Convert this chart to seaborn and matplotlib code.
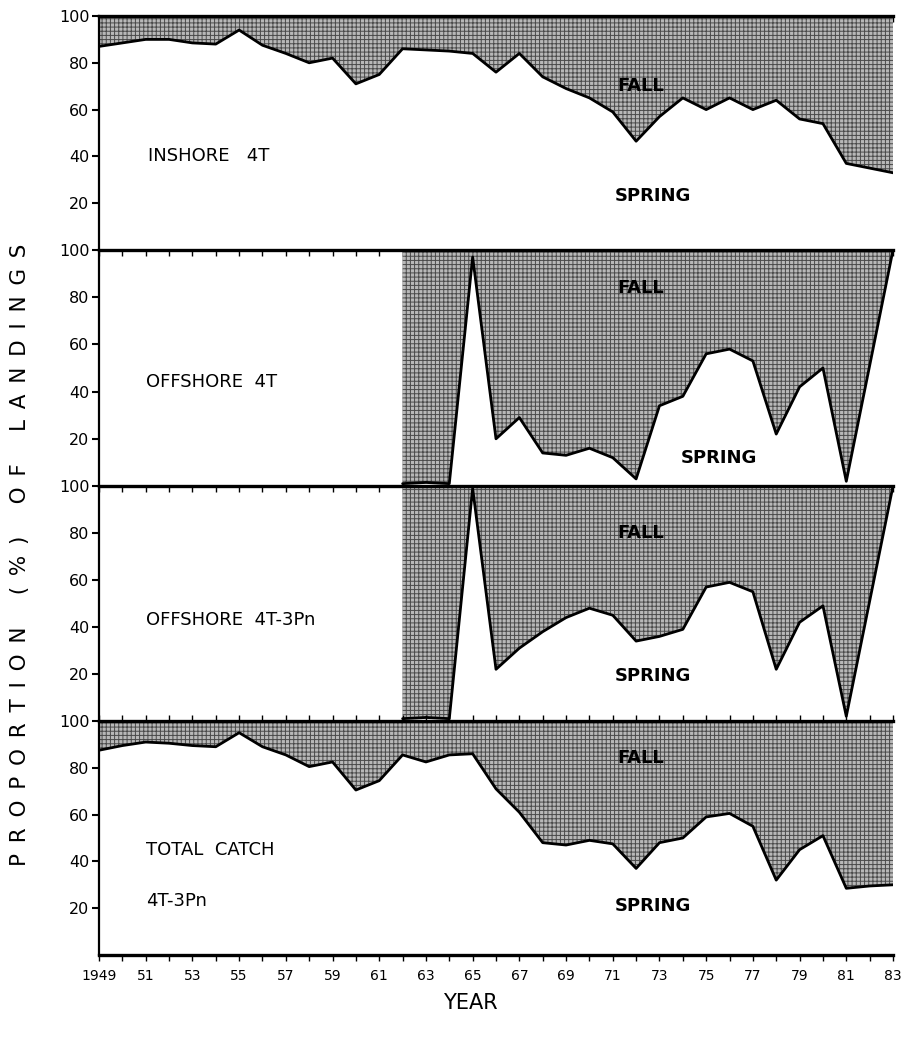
import numpy as np
import pandas as pd
import matplotlib
matplotlib.use("Agg")
import matplotlib.pyplot as plt
import seaborn as sns

years = list(range(1949, 1984))

inshore_4t = [87, 88.5, 90, 90, 88.5, 88, 94, 87.5, 84, 80, 82, 71, 75, 86, 85.5, 85,
              84, 76, 84, 74, 69, 65, 59, 46.5, 57, 65, 60, 65, 60, 64, 56, 54, 37, 35, 33]

offshore_years = list(range(1962, 1984))
offshore_4t = [1, 1.5, 1, 97, 20, 29, 14, 13, 16, 12, 3, 34, 38, 56, 58, 53, 22, 42, 50, 2, 51, 100]
offshore_4t3pn = [1, 1.5, 1, 99, 22, 31, 38, 44, 48, 45, 34, 36, 39, 57, 59, 55, 22, 42, 49, 2, 51, 100]

total_catch = [87.5, 89.5, 91, 90.5, 89.5, 89, 95, 89, 85.5, 80.5, 82.5, 70.5, 74.5, 85.5, 82.5,
               85.5, 86, 71, 61, 48, 47, 49, 47.5, 37, 48, 50, 59, 60.5, 55, 32, 45, 51, 28.5, 29.5, 30]

ytick_vals = [20, 40, 60, 80, 100]
xtick_major = list(range(1949, 1984, 2))
xtick_labels = ["1949"] + [str(y)[2:] for y in xtick_major[1:]]
ylabel_words = ["PROPORTION", "(%)", "OF", "LANDINGS"]

frames = [
    pd.DataFrame({"year": years, "spring": inshore_4t}),
    pd.DataFrame({"year": offshore_years, "spring": offshore_4t}),
    pd.DataFrame({"year": offshore_years, "spring": offshore_4t3pn}),
    pd.DataFrame({"year": years, "spring": total_catch}),
]

sns.set_theme(style="white")
plt.rcParams['font.family'] = ['DejaVu Sans']
plt.rcParams['hatch.linewidth'] = 0.7
plt.rcParams['hatch.color'] = '#4a4a4a'
plt.rcParams['text.color'] = 'black'
plt.rcParams['xtick.color'] = 'black'
plt.rcParams['ytick.color'] = 'black'

fig = plt.figure(figsize=(9.13, 10.39), dpi=100)
W, H = 913, 1039
left_px, right_px = 99, 893
tops = [16, 250, 486, 721]
bots = [250, 486, 721, 955]
axes = []
for t, b in zip(tops, bots):
    ax = fig.add_axes([left_px / W, 1 - b / H, (right_px - left_px) / W, (b - t) / H])
    axes.append(ax)

label_pos = [
    [("INSHORE   4T", 1951.1, 40)],
    [("OFFSHORE  4T", 1951.0, 44)],
    [("OFFSHORE  4T-3Pn", 1951.0, 43)],
    [("TOTAL  CATCH", 1951.0, 45), ("4T-3Pn", 1951.0, 23)],
]
fall_pos = [(1971.2, 70), (1971.2, 84), (1971.2, 80), (1971.2, 84)]
spring_pos = [(1971.1, 23), (1973.9, 12), (1971.1, 19), (1971.1, 21)]

for i, (ax, df) in enumerate(zip(axes, frames)):
    ax.fill_between(df["year"], df["spring"], 100, facecolor="#b8b8b8",
                    hatch="++++", edgecolor="#4a4a4a", linewidth=0)
    sns.lineplot(data=df, x="year", y="spring", ax=ax, color="black",
                 linewidth=2.0, legend=False)
    ax.set_xlim(1949, 1983)
    ax.set_ylim(0, 100)
    ax.set_xlabel("")
    ax.set_ylabel("")
    ax.set_yticks(ytick_vals)
    ax.set_yticklabels([str(v) for v in ytick_vals], fontsize=11.5)
    ax.tick_params(axis="y", direction="out", length=5, width=1.5, pad=2, left=True)
    ax.set_xticks(range(1949, 1984), minor=True)
    if i == 3:
        ax.set_xticks(xtick_major)
        ax.set_xticklabels(xtick_labels, fontsize=10)
        ax.tick_params(axis="x", which="both", direction="out", length=4, width=1,
                       bottom=True, top=True, pad=6)
    else:
        ax.set_xticks([])
        ax.set_xticks(range(1949, 1984), minor=True)
        ax.tick_params(axis="x", which="both", direction="in", length=4, width=1,
                       bottom=False, top=True, labelbottom=False)
    ax.spines["right"].set_visible(False)
    ax.spines["top"].set_linewidth(2.4)
    ax.spines["left"].set_linewidth(1.6)
    ax.spines["bottom"].set_linewidth(2.4 if i == 3 else 0)
    for spine in ax.spines.values():
        spine.set_color("black")
    for txt, x, y in label_pos[i]:
        ax.text(x, y, txt, fontsize=13, ha="left", va="center", color="black")
    ax.text(fall_pos[i][0], fall_pos[i][1], "FALL", fontsize=13, fontweight="bold",
            ha="left", va="center", color="black")
    ax.text(spring_pos[i][0], spring_pos[i][1], "SPRING", fontsize=13, fontweight="bold",
            ha="left", va="center", color="black")

fig.text(470 / W, 1 - 1003 / H, "YEAR", fontsize=15, ha="center", va="center", color="black")

sp = "\u2002"
ylabel = (sp * 3).join(sp.join(w) for w in ylabel_words)
fig.text(20 / W, 1 - 555 / H, ylabel, fontsize=15.5, rotation=90,
         ha="center", va="center", color="black")

fig.savefig("out.png", dpi=100)
